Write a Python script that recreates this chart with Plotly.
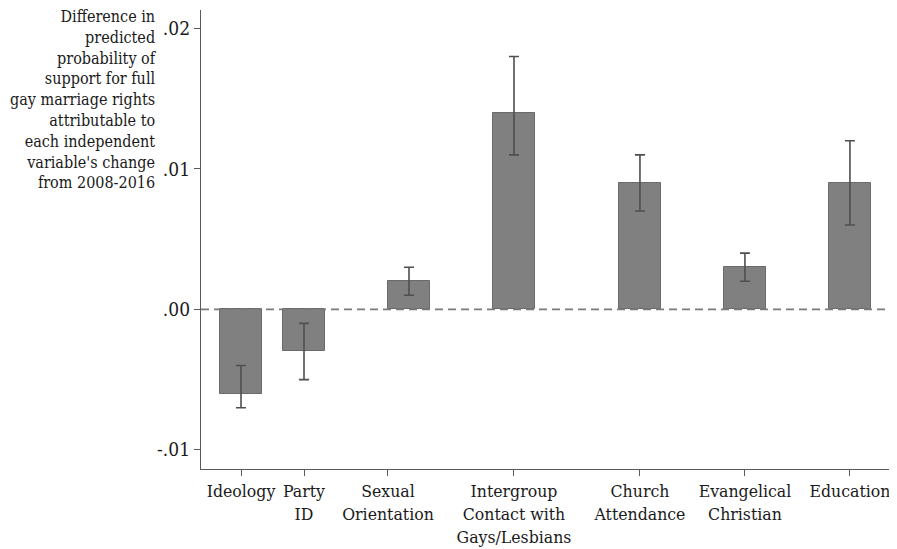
import plotly.graph_objects as go

categories = ["Ideology", "Party ID", "Sexual Orientation", "Intergroup Contact with Gays/Lesbians",
              "Church Attendance", "Evangelical Christian", "Education"]
tick_labels = ["Ideology", "Party<br>ID", "Sexual<br>Orientation", "Intergroup<br>Contact with<br>Gays/Lesbians",
               "Church<br>Attendance", "Evangelical<br>Christian", "Education"]
values = [-0.006, -0.003, 0.002, 0.014, 0.009, 0.003, 0.009]
ci_low = [-0.007, -0.005, 0.001, 0.011, 0.007, 0.002, 0.006]
ci_high = [-0.004, -0.001, 0.003, 0.018, 0.011, 0.004, 0.012]
y_tick_vals = [-0.01, 0.0, 0.01, 0.02]
y_tick_text = ["-.01", ".00", ".01", ".02"]

# layout positions (x slots on a numeric axis)
bar_pos = [0, 3, 8, 13, 19, 24, 29]
label_pos = [0, 3, 7, 13, 19, 24, 29]

err_plus = [h - v for h, v in zip(ci_high, values)]
err_minus = [v - l for v, l in zip(values, ci_low)]

font_family = "DejaVu Serif Condensed, DejaVu Serif"
axis_col = "#5a5a5a"
txt_col = "#1a1a1a"

fig = go.Figure()
fig.add_trace(go.Bar(
    x=bar_pos, y=values, width=2,
    marker=dict(color="#808080", line=dict(color="#6a6a6a", width=1)),
    error_y=dict(type="data", symmetric=False, array=err_plus, arrayminus=err_minus,
                 color="#4f4f4f", thickness=1.6, width=5),
    hovertext=categories, showlegend=False,
))

fig.add_shape(type="line", xref="paper", yref="y", x0=0, x1=1, y0=0, y1=0,
              line=dict(color="#7a7a7a", width=1.6, dash="8px,5px"), layer="above")

fig.add_annotation(
    xref="paper", yref="paper", x=(159 - 201) / 688, y=1.01, xanchor="right", yanchor="top",
    align="right", showarrow=False,
    text="Difference in<br>predicted<br>probability of<br>support for full<br>gay marriage rights<br>"
         "attributable to<br>each independent<br>variable's change<br>from 2008-2016",
    font=dict(family=font_family, size=16, color=txt_col),
)

# page body has an 8px margin, so the figure is offset by 8px
fig.update_layout(
    width=889, height=541,
    margin=dict(l=193, r=8, t=2, b=77),
    paper_bgcolor="white", plot_bgcolor="white",
    font=dict(family=font_family, size=16, color=txt_col),
    bargap=0,
)
fig.update_xaxes(
    range=[-1.905, 30.86], tickmode="array", tickvals=label_pos, ticktext=tick_labels,
    showgrid=False, zeroline=False, showline=True, linecolor=axis_col, linewidth=1.3,
    ticks="outside", ticklen=6, tickcolor=axis_col, tickwidth=1.2,
    tickfont=dict(family=font_family, size=17.5, color=txt_col),
)
fig.update_yaxes(
    range=[-0.011365, 0.02131], tickmode="array", tickvals=y_tick_vals, ticktext=y_tick_text,
    showgrid=False, zeroline=False, showline=True, linecolor=axis_col, linewidth=1.3,
    ticks="outside", ticklen=6, tickcolor=axis_col, tickwidth=1.2,
    tickfont=dict(family=font_family, size=19, color=txt_col),
)

fig.write_html("out.html")
